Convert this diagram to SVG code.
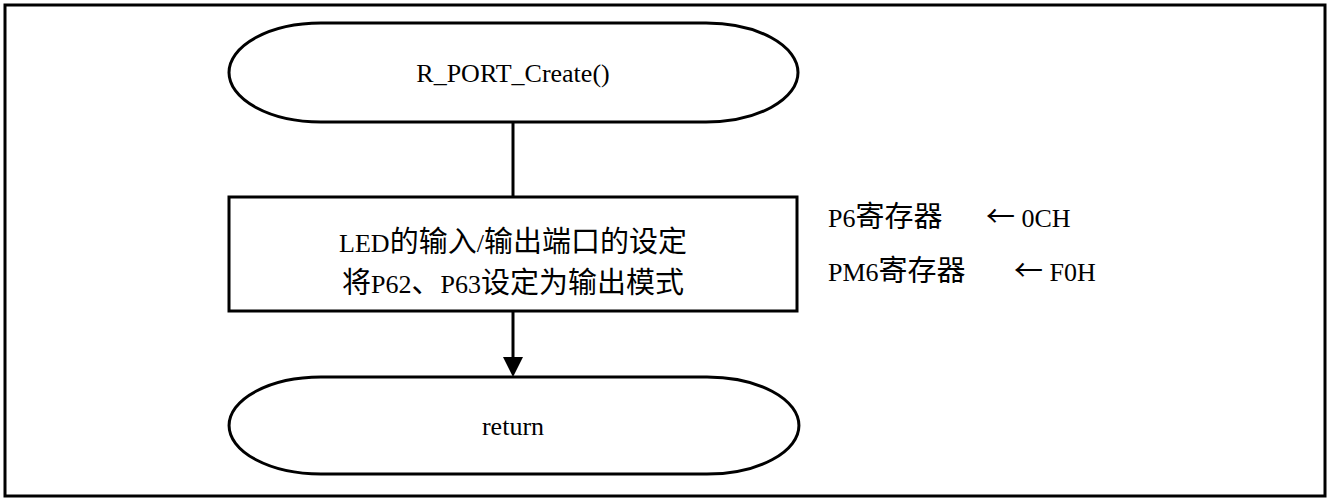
<svg xmlns="http://www.w3.org/2000/svg" width="1331" height="498" viewBox="0 0 1331 498">
<style>
.frame{fill:none;stroke:#000;stroke-width:3}
.shape{fill:#fff;stroke:#000;stroke-width:3}
.conn{fill:none;stroke:#000;stroke-width:3}
text{font-family:"Liberation Serif","Noto Sans CJK SC",serif;font-size:26px;fill:#000}
.cj{font-family:"Noto Sans CJK SC","Liberation Serif",sans-serif;font-size:29px}
.c{text-anchor:middle}
</style>
<rect class="frame" x="5" y="5" width="1320" height="491"/>
<g id="connectors">
<line class="conn" x1="513" y1="122" x2="513" y2="197"/>
<line class="conn" x1="513" y1="311" x2="513" y2="358"/>
<path d="M503,357 L523,357 L513,377 Z" fill="#000"/>
</g>
<g id="start">
<path class="shape" d="M321,23 L706,23 A92,49.5 0 0 1 706,122 L321,122 A92,49.5 0 0 1 321,23 Z"/>
<text class="c" x="513" y="82">R_PORT_Create()</text>
</g>
<g id="process">
<rect class="shape" x="229" y="197" width="568" height="114"/>
<text class="c" x="513" y="252">LED<tspan class="cj">的输入</tspan>/<tspan class="cj">输出端口的设定</tspan></text>
<text class="c" x="513" y="293"><tspan class="cj">将</tspan>P62<tspan class="cj">、</tspan>P63<tspan class="cj">设定为输出模式</tspan></text>
</g>
<g id="note">
<text x="828" y="227">P6<tspan class="cj">寄存器</tspan></text>
<text x="986" y="227"><tspan class="cj">←</tspan> 0CH</text>
<text x="828" y="281">PM6<tspan class="cj">寄存器</tspan></text>
<text x="1014" y="281"><tspan class="cj">←</tspan> F0H</text>
</g>
<g id="end">
<path class="shape" d="M321,377 L707,377 A92,48.5 0 0 1 707,474 L321,474 A92,48.5 0 0 1 321,377 Z"/>
<text class="c" x="513" y="435">return</text>
</g>
</svg>
